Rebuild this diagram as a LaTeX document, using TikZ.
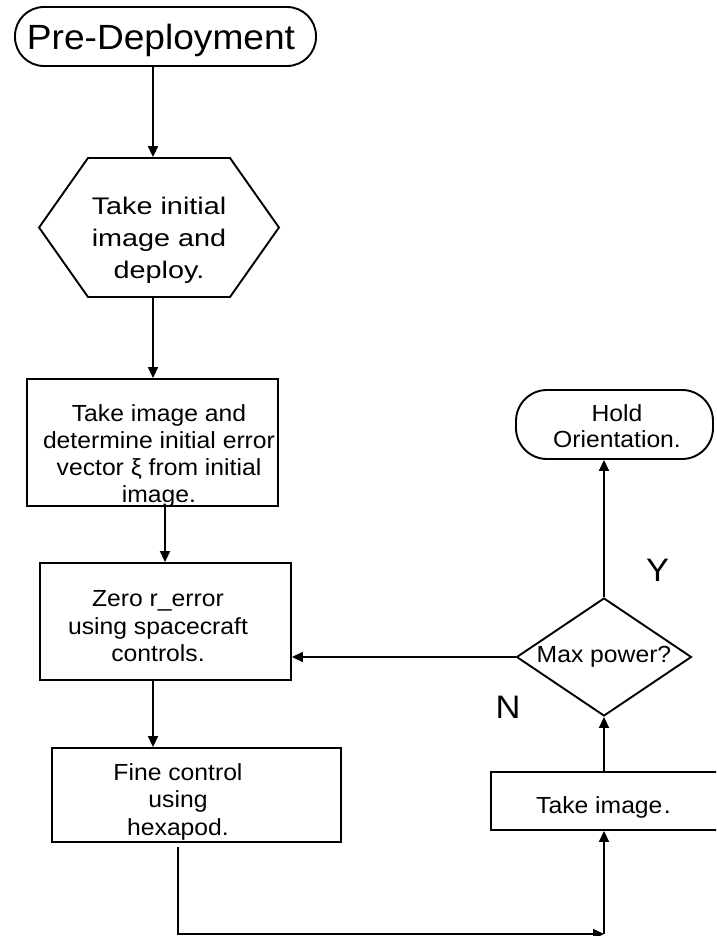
\documentclass[tikz,border=0pt]{standalone}
\usepackage{fontspec}
\setmainfont{Liberation Sans}[FakeStretch=1.06]
\newfontfamily\hexfont{Liberation Sans}[FakeStretch=1.2]
\usetikzlibrary{arrows.meta,shapes.geometric}
\begin{document}
\begin{tikzpicture}[x=1pt,y=-1pt,line width=1.9pt,
  arr/.style={-{Triangle[length=11pt,width=10pt]}},
  shapebox/.style={draw,rectangle,inner sep=0pt},
  lbl/.style={inner sep=0pt,align=center,anchor=base,font=\fontsize{23.3}{26.7}\selectfont},
  big/.style={inner sep=0pt,anchor=base,font=\fontsize{32.5}{36}\selectfont}]
\useasboundingbox (0,0) rectangle (716,936);
\clip (0,0) rectangle (716,936);
% x positions of connectors
\coordinate (xa) at (153,0);
\coordinate (xb) at (165,0);
\coordinate (xc) at (178,0);
% shapes
\node[shapebox,rounded corners=29pt,minimum width=301pt,minimum height=59pt] (pre) at (165.5,36.5) {};
\node[inner sep=0pt,minimum width=238pt,minimum height=139pt] (hex) at (159,227.5) {};
\draw (88,158) -- (230,158) -- (hex.east) -- (230,297) -- (88,297) -- (hex.west) -- cycle;
\node[shapebox,minimum width=251pt,minimum height=127pt] (box1) at (152.5,442.5) {};
\node[shapebox,minimum width=251pt,minimum height=117pt] (box2) at (165.5,621.5) {};
\node[shapebox,minimum width=289pt,minimum height=94pt] (box3) at (196.5,795) {};
\node[shapebox,minimum width=260pt,minimum height=58pt] (take) at (621,801) {};
\node[draw,diamond,inner sep=0pt,aspect=1.48,minimum width=175pt,minimum height=118pt,font=\fontsize{23.3}{26.7}\selectfont] (dec) at (604,657) {Max power?};
\node[shapebox,rounded corners=31pt,minimum width=197pt,minimum height=69pt] (hold) at (614.5,424.5) {};
% texts (anchor base = baseline of the last line)
\node[inner sep=0pt,anchor=base,font=\fontsize{35}{40}\selectfont] (tpre) at (161,50) {Pre-Deployment};
\node[inner sep=0pt,align=center,anchor=base,font=\hexfont\fontsize{24}{32}\selectfont] (thex) at (159,278.3) {Take initial\\image and\\deploy.};
\node[lbl] (tbox1) at (159,502) {Take image and\\determine initial error\\vector ξ from initial\\image.};
\node[lbl,font=\fontsize{23.3}{27.3}\selectfont] (tbox2) at (158,661.5) {Zero r\_error\\using spacecraft\\controls.};
\node[lbl,font=\fontsize{23.3}{27.5}\selectfont] (tbox3) at (178,835) {Fine control\\using\\hexapod.};
\node[lbl,font=\fontsize{23.3}{25.6}\selectfont] (thold) at (617,447.3) {Hold\\Orientation.};
\node[lbl] (ttake) at (603.5,813) {Take image\hspace{1.5pt}.};
\node[big] (ty) at (657.5,581.7) {Y};
\node[big] (tn) at (508,718) {N};
% connectors
\coordinate (corner) at (604,934);
\draw[arr] (pre.south -| xa) -- (hex.north -| xa);
\draw[arr] (hex.south -| xa) -- (box1.north -| xa);
\draw[arr] (box1.south -| xb) -- (box2.north -| xb);
\draw[arr] (box2.south -| xa) -- (box3.north -| xa);
\draw[arr] ([yshift=-4pt]box3.south -| xc) -- (corner -| xc) -- (corner);
\draw[arr] (corner) -- (take.south -| corner);
\draw[arr] (take.north -| dec.south) -- (dec.south);
\draw[arr] (dec.north) -- (hold.south -| dec.north);
\draw[arr] (dec.west) -- (box2.east |- dec.west);
\end{tikzpicture}
\end{document}
